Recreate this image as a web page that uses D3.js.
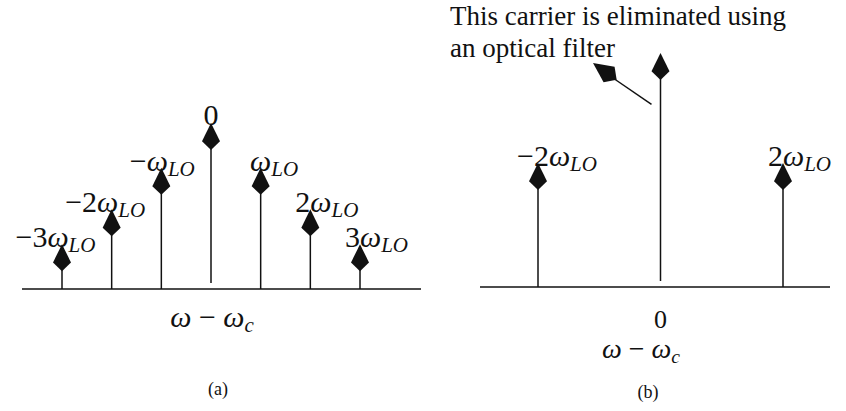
<!DOCTYPE html>
<html>
<head>
<meta charset="utf-8">
<script src="https://cdn.jsdelivr.net/npm/d3@7"></script>
<style>
  body { margin: 0; background: #fff; }
  text { fill: #111; }
</style>
</head>
<body>
<div id="chart"></div>
<script>
// panel (a): all the harmonics of the LO around the carrier
var harmA = [-3, -2, -1, 0, 1, 2, 3];
var ampA = [0.27, 0.48, 0.73, 1, 0.73, 0.48, 0.27];
var prefA = ["\u22123", "\u22122", "\u2212", "0", "", "2", "3"];

// panel (b): only the +-2 harmonics and the carrier
var harmB = [-2, 0, 2];
var ampB = [0.53, 1, 0.53];
var prefB = ["\u22122", "", "2"];

var note = ["This carrier is eliminated using", "an optical filter"];

var width = 846, height = 411;
var serif = "Liberation Serif";
var ink = "#111";

var svg = d3.select("#chart").append("svg")
    .attr("width", width).attr("height", height)
    .attr("font-family", serif);

var xA = d3.scaleLinear().domain([-3, 3]).range([62, 360]);
var yA = d3.scaleLinear().domain([0, 1]).range([289, 123]);
var xB = d3.scaleLinear().domain([-2, 2]).range([538, 783]);
var yB = d3.scaleLinear().domain([0, 1]).range([287, 53]);

// kite shaped arrow head, tip at (0,0) pointing up
function kite(w, h) {
    return "M0,0L" + (w / 2) + "," + (0.68 * h) + "L0," + h + "L" + (-w / 2) + "," + (0.68 * h) + "Z";
}

function label(g, y, pre) {
    var t = g.append("text").attr("y", y)
        .attr("font-family", serif)
        .attr("font-size", 30);
    var p = t.append("tspan").text(pre);
    var o = t.append("tspan").attr("font-style", "italic").text("\u03c9");
    t.append("tspan").attr("font-style", "italic").attr("font-size", 21)
        .attr("dy", 5).text("LO");
    return { t: t, pre: p.node().getComputedTextLength(),
             om: o.node().getComputedTextLength() };
}

function panel(harm, amp, pref, x, y, x0, x1, side) {
    var g = svg.append("g");
    var base = y(0);

    g.append("line")
        .attr("x1", x0).attr("x2", x1)
        .attr("y1", base).attr("y2", base)
        .attr("stroke", ink).attr("stroke-width", 1.6);

    for (var i = 0; i < harm.length; i++) {
        var k = harm[i];
        var cx = x(k), tip = y(amp[i]);
        var h = 27, w = 18;
        // the carrier stem stops just short of the axis
        var bottom = k === 0 ? base - 6 : base;

        g.append("line")
            .attr("x1", cx).attr("x2", cx)
            .attr("y1", tip + h - 2).attr("y2", bottom)
            .attr("stroke", ink).attr("stroke-width", 1.5);
        g.append("path")
            .attr("d", kite(w, h))
            .attr("transform", "translate(" + cx + "," + tip + ")")
            .attr("fill", ink);

        if (pref[i] === "" && k === 0) continue;
        if (k === 0) {
            g.append("text").attr("x", cx).attr("y", tip + 2)
                .attr("text-anchor", "middle")
                .attr("font-size", 30)
                .text(pref[i]);
            continue;
        }
        var lb = label(g, tip + 3, pref[i]);
        var lx;
        if (side === "a") {
            if (k < 0) lx = cx - lb.pre - lb.om / 2 - 4;
            else if (k === 1) lx = cx - lb.om / 2;
            else lx = cx - lb.pre;
        } else {
            if (k < 0) lx = cx - 21;
            else lx = cx - lb.pre;
        }
        lb.t.attr("x", lx);
    }
    return g;
}

var gA = panel(harmA, ampA, prefA, xA, yA, 22, 421, "a");
var gB = panel(harmB, ampB, prefB, xB, yB, 480, 830, "b");

// axis titles
function axisTitle(g, cx, y, size) {
    var t = g.append("text").attr("x", cx).attr("y", y)
        .attr("text-anchor", "middle")
        .attr("font-size", size);
    t.append("tspan").attr("font-style", "italic").text("\u03c9");
    t.append("tspan").text(" \u2212 ");
    t.append("tspan").attr("font-style", "italic").text("\u03c9");
    t.append("tspan").attr("font-style", "italic").attr("font-size", size * 0.7)
        .attr("dy", 5).text("c");
}

axisTitle(gA, 212, 327, 30);
gA.append("text").attr("x", 218).attr("y", 395)
    .attr("text-anchor", "middle")
    .attr("font-size", 18).text("(a)");

gB.append("text").attr("x", xB(0)).attr("y", 328)
    .attr("text-anchor", "middle")
    .attr("font-size", 26).text("0");
axisTitle(gB, 641, 358, 28);
gB.append("text").attr("x", 648).attr("y", 398)
    .attr("text-anchor", "middle")
    .attr("font-size", 18).text("(b)");

// annotation pointing at the removed carrier
var noteG = svg.append("g");
noteG.selectAll("text.note").data(note).enter().append("text")
    .attr("class", "note")
    .attr("x", 450)
    .attr("y", function(d, i) { return 25 + i * 32; })
    .attr("font-size", 27)
    .text(function(d) { return d; });

var ax0 = xB(0) - 9, ay0 = yB(0.78);
var ax1 = 593, ay1 = 63;
var ang = Math.atan2(ay1 - ay0, ax1 - ax0) * 180 / Math.PI + 90;
noteG.append("line")
    .attr("x1", ax0).attr("y1", ay0)
    .attr("x2", ax1 + 20).attr("y2", ay1 + 15)
    .attr("stroke", ink).attr("stroke-width", 1.5);
noteG.append("path")
    .attr("d", kite(19, 29))
    .attr("transform", "translate(" + ax1 + "," + ay1 + ") rotate(" + ang + ")")
    .attr("fill", ink);
</script>
</body>
</html>
